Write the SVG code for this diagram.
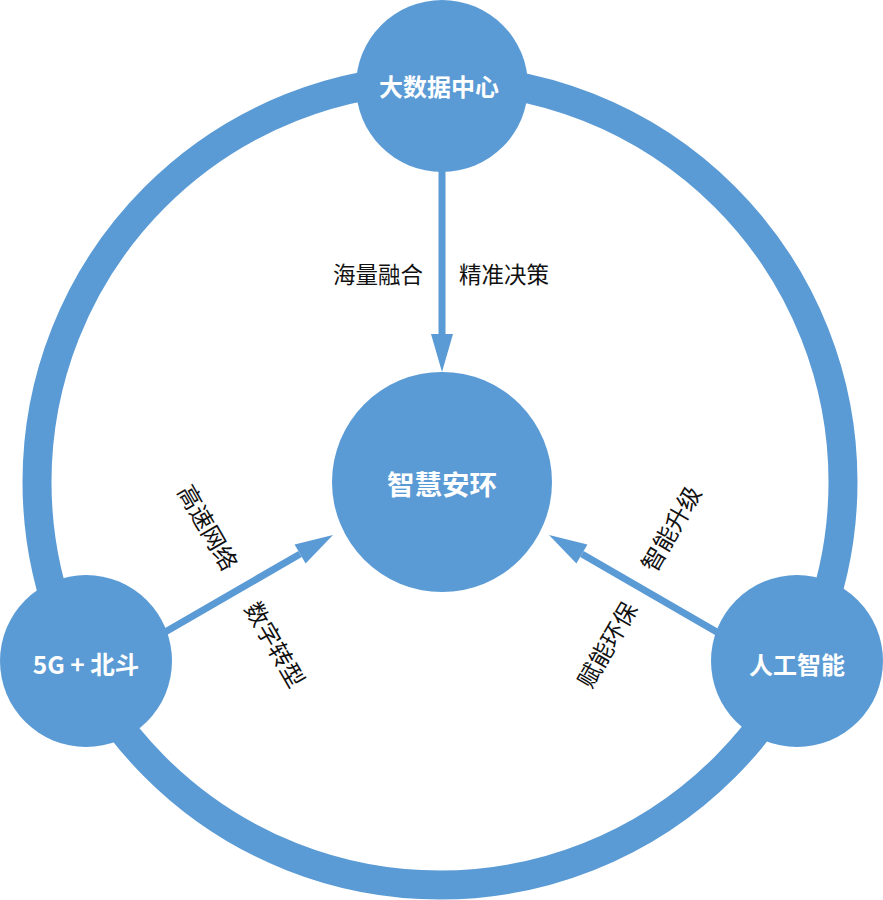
<svg xmlns="http://www.w3.org/2000/svg" width="883" height="900" viewBox="0 0 883 900">
<style>
.node{fill:#5B9BD5}
.lbl{font-family:"Noto Sans CJK SC","Noto Sans",sans-serif;font-weight:bold;fill:#ffffff;text-anchor:middle;dominant-baseline:central}
.edge{font-family:"Noto Sans CJK SC","Noto Sans",sans-serif;font-size:22.5px;fill:#111111;text-anchor:middle;dominant-baseline:central}
.rot{font-size:23.5px}
.conn{stroke:#5B9BD5;stroke-width:7;fill:none}
</style>
<defs>
<marker id="ah" markerUnits="userSpaceOnUse" markerWidth="38" markerHeight="22" refX="0" refY="11" orient="auto" overflow="visible">
<path d="M0,0 L38,11 L0,22 Z" fill="#5B9BD5"/>
</marker>
</defs>
<g id="ring">
<circle cx="440" cy="482" r="403" fill="none" stroke="#5B9BD5" stroke-width="29"/>
</g>
<g id="connectors">
<line class="conn" x1="442" y1="170" x2="442" y2="334" marker-end="url(#ah)"/>
<line class="conn" x1="160" y1="635" x2="300.1" y2="554" marker-end="url(#ah)"/>
<line class="conn" x1="722" y1="635" x2="581.9" y2="554" marker-end="url(#ah)"/>
<text class="edge" x="378" y="273">海量融合</text>
<text class="edge" x="504" y="273">精准决策</text>
<text class="edge rot" transform="translate(209,527) rotate(60)">高速网络</text>
<text class="edge rot" transform="translate(276,644) rotate(60)">数字转型</text>
<text class="edge rot" transform="translate(670,528) rotate(-60)">智能升级</text>
<text class="edge rot" transform="translate(606,644) rotate(-60)">赋能环保</text>
</g>
<g id="node-bigdata">
<circle class="node" cx="442" cy="86" r="86"/>
<text class="lbl" x="439" y="85" font-size="24">大数据中心</text>
</g>
<g id="node-center">
<circle class="node" cx="442" cy="482" r="110"/>
<text class="lbl" x="442" y="483" font-size="27.5">智慧安环</text>
</g>
<g id="node-5g">
<circle class="node" cx="86" cy="661" r="86"/>
<text class="lbl" x="86" y="663" font-size="24.5">5G + 北斗</text>
</g>
<g id="node-ai">
<circle class="node" cx="797" cy="661" r="86"/>
<text class="lbl" x="797" y="663" font-size="24">人工智能</text>
</g>
</svg>
